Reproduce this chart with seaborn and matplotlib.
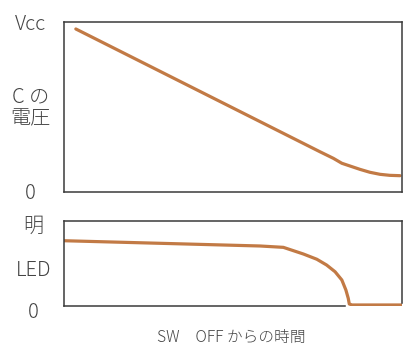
import matplotlib
matplotlib.use("Agg")
import matplotlib.pyplot as plt
import pandas as pd
import seaborn as sns

# capacitor voltage after SW OFF (time 0..10, voltage 0..1 = Vcc)
cap_time = [0.35, 7.57, 7.97, 8.22, 8.46, 8.76, 9.05, 9.35, 9.64, 9.94]
cap_volt = [0.959, 0.237, 0.198, 0.169, 0.153, 0.133, 0.116, 0.104, 0.098, 0.096]

# LED brightness (0..1 = bright)
led_time = [0.0, 5.80, 6.49, 7.08, 7.48, 7.77, 8.02, 8.22, 8.34, 8.41, 8.44,
            8.52, 10.0]
led_bright = [0.768, 0.706, 0.690, 0.612, 0.550, 0.482, 0.403, 0.306, 0.188,
              0.090, 0.024, 0.012, 0.012]

top_labels = [("Vcc", 0.988), ("C の\n電圧", 0.494), ("0", -0.006)]
bottom_labels = [("明", 0.94), ("LED", 0.42), ("0", -0.08)]
x_label = "SW　OFF からの時間"

LINE = "#c27a45"
INK = "#3a3a3a"
TEXT = "#444444"

sns.set_theme(style="white")
plt.rcParams["font.family"] = ["Noto Sans CJK JP", "DejaVu Sans"]

fig = plt.figure(figsize=(4.03, 3.45), dpi=100)
ax_top = fig.add_axes([64 / 403, 1 - 192 / 345, 338 / 403, 170 / 345])
ax_bot = fig.add_axes([64 / 403, 1 - 306 / 345, 338 / 403, 85 / 345])

cap = pd.DataFrame({"t": cap_time, "v": cap_volt})
led = pd.DataFrame({"t": led_time, "b": led_bright})
sns.lineplot(data=cap, x="t", y="v", ax=ax_top, color=LINE, linewidth=2.3,
             sort=False, solid_joinstyle="round", solid_capstyle="round")
sns.lineplot(data=led, x="t", y="b", ax=ax_bot, color=LINE, linewidth=2.3,
             sort=False, solid_joinstyle="round")

for ax in (ax_top, ax_bot):
    ax.set_xlim(0, 10)
    ax.set_ylim(0, 1)
    ax.set_xticks([])
    ax.set_yticks([])
    ax.set_xlabel("")
    ax.set_ylabel("")
    for sp in ax.spines.values():
        sp.set_color(INK)
        sp.set_linewidth(1.1)

# hand-drawn axis stops short where the LED trace drops to zero
ax_bot.spines["bottom"].set_bounds(0, 8.3)
ax_bot.spines["right"].set_bounds(0.04, 1)

for text, y in top_labels:
    ax_top.text(-0.1, y, text, transform=ax_top.get_yaxis_transform(),
                ha="center", va="center", fontsize=14.5, color=TEXT,
                linespacing=1.05, fontweight="light")
for text, y in bottom_labels:
    ax_bot.text(-0.09, y, text, transform=ax_bot.get_yaxis_transform(),
                ha="center", va="center", fontsize=14.5, color=TEXT,
                fontweight="light")

fig.text(231 / 403, 1 - 337 / 345, x_label, ha="center", va="center",
         fontsize=11.3, color=TEXT, fontweight="light")

fig.savefig("out.png", dpi=100)
